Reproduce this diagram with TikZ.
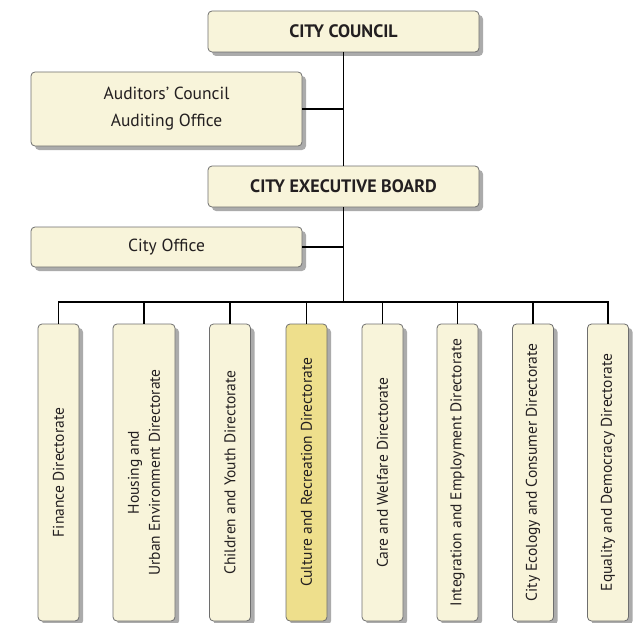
\documentclass[tikz,border=0pt]{standalone}
\usepackage{fontspec}
\setmainfont{PT Sans}
\usetikzlibrary{shadows}
\definecolor{cream}{HTML}{F8F4DA}
\definecolor{gold}{HTML}{EEDF8C}
\definecolor{edge}{HTML}{6E6E6E}
\definecolor{ink}{HTML}{231F20}
\tikzset{
  box/.style={draw=edge, line width=0.8pt, fill=cream, rounded corners=4pt, text=ink,
    inner sep=0pt, align=center, font=\fontsize{17.5}{27}\selectfont,
    drop shadow={shadow xshift=4pt, shadow yshift=-4pt, opacity=0.55, fill=black!60}},
  hbox/.style={box, minimum width=271pt},
  vbox/.style={box, rotate=90, minimum width=297pt, minimum height=41pt,
    font=\fontsize{15.5}{21}\selectfont},
  title/.style={font=\fontsize{18}{20}\selectfont\bfseries},
  link/.style={draw=black, line width=1.4pt},
}
\begin{document}
\begin{tikzpicture}[x=1pt,y=-1pt]
\useasboundingbox (0,0) rectangle (642,623);
\node[hbox, minimum height=41pt, title] (cc) at (343.5,31.5) {CITY COUNCIL};
\node[hbox, minimum height=74pt] (aud) at (166.5,109) {Auditors’ Council\\Auditing Office};
\node[hbox, minimum height=41pt, title] (exb) at (343.5,186.5) {CITY EXECUTIVE BOARD};
\node[hbox, minimum height=40pt] (co) at (166.5,247) {City Office};

\node[vbox] (d1) at (58.5,472.5) {Finance Directorate};
\node[vbox, minimum height=62pt] (d2) at (144,472.5) {Housing and\\Urban Environment Directorate};
\node[vbox] (d3) at (230,472.5) {Children and Youth Directorate};
\node[vbox, fill=gold] (d4) at (306.5,472.5) {Culture and Recreation Directorate};
\node[vbox] (d5) at (382.5,472.5) {Care and Welfare Directorate};
\node[vbox] (d6) at (457.5,472.5) {Integration and Employment Directorate};
\node[vbox] (d7) at (533,472.5) {City Ecology and Consumer Directorate};
\node[vbox] (d8) at (608,472.5) {Equality and Democracy Directorate};

\coordinate (bus) at (343.5,302);
\coordinate (ja) at (343.5,109);
\coordinate (jc) at (343.5,247);

\draw[link] (cc.south) -- (exb.north);
\draw[link] (exb.south) -- (bus);
\draw[link] (aud.east) -- (ja);
\draw[link] (co.east) -- (jc);
\draw[link] (d1.east) -- (d1.east |- bus) -- (d8.east |- bus) -- (d8.east);
\foreach \d in {d2,d3,d4,d5,d6,d7}{
  \draw[link] (\d.east |- bus) -- (\d.east);
}
\end{tikzpicture}
\end{document}
